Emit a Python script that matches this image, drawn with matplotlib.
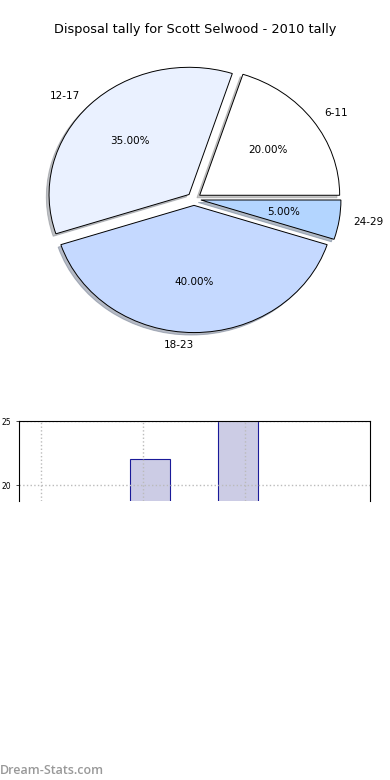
import matplotlib
matplotlib.use('Agg')
import matplotlib.pyplot as plt

# pie data
labels = ['6-11', '12-17', '18-23', '24-29']
shares = [20, 35, 40, 5]
pie_colors = ['#FFFFFF', '#EAF1FF', '#C5D9FF', '#B3D5FF']

# bar data (only top of chart visible)
bar_pos = [1.07, 1.93]
bar_vals = [22, 26]
bar_ticks = [0, 1, 2]
ytick_vals = [20, 25]

fig = plt.figure(figsize=(3.9, 7.8), dpi=100)

fig.text(0.5, 1 - 30/780, 'Disposal tally for Scott Selwood - 2010 tally',
         ha='center', va='center', fontsize=9.3)

ax = fig.add_axes([19/390, 422/780, 350/390, 318/780])
wedges, texts, autotexts = ax.pie(shares, labels=labels, colors=pie_colors,
                                  explode=[0.05]*4,
                                  shadow={'ox': -0.014, 'oy': -0.014, 'shade': 0.45},
                                  startangle=0, autopct='%1.2f%%',
                                  wedgeprops={'edgecolor': 'black', 'linewidth': 0.7},
                                  textprops={'fontsize': 7.5})
texts[2].set_ha('right')
ax.set_aspect('auto')
ax.set_xlim(-1.25, 1.25)
ax.set_ylim(-1.25, 1.25)

# bar chart, cut off below
ax2 = fig.add_axes([19/390, 1 - 501/780, 351/390, 80/780])
ax2.bar(bar_pos, bar_vals, width=0.39, color='#CCCCE5', edgecolor='#1A1A99', linewidth=0.8)
ax2.set_xlim(-0.216, 3.225)
ax2.set_ylim(18.75, 25)
ax2.set_xticks(bar_ticks)
ax2.set_xticklabels([])
ax2.set_yticks(ytick_vals)
ax2.tick_params(axis='y', labelsize=5.5, length=2, width=0.5)
ax2.tick_params(axis='x', length=0)
ax2.grid(True, linestyle=':', color='#BBBBBB', linewidth=1)
ax2.spines['bottom'].set_visible(False)
for s in ['top', 'left', 'right']:
    ax2.spines[s].set_linewidth(0.8)

fig.text(0.0, 1 - 770/780, 'Dream-Stats.com', ha='left', va='center',
         fontsize=9, color='#999999', fontweight='semibold',
         family=['Open Sans', 'DejaVu Sans'])

fig.savefig('out.png', dpi=100)
